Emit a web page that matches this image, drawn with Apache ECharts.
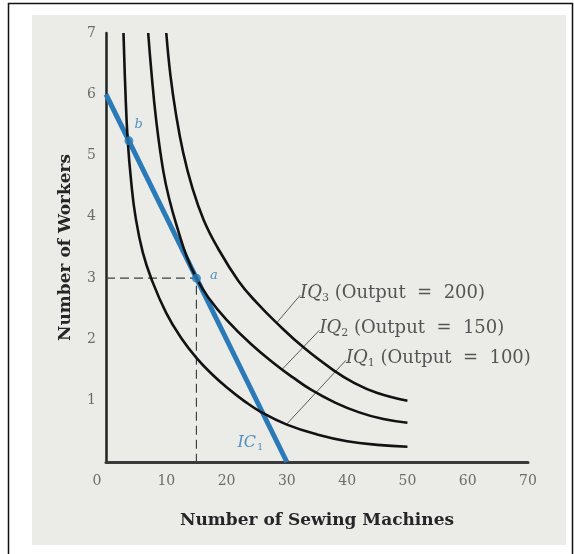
<!DOCTYPE html>
<html>
<head>
<meta charset="utf-8">
<script src="https://cdn.jsdelivr.net/npm/echarts@6/dist/echarts.min.js"></script>
<style>
  html, body { margin: 0; padding: 0; background: #ffffff; }
  #chart { width: 574px; height: 554px; }
</style>
</head>
<body>
<div id="chart"></div>
<script>
// Axis ticks
const xTicks = [0, 10, 20, 30, 40, 50, 60, 70];
const yTicks = [0, 1, 2, 3, 4, 5, 6, 7];

// Isoquants: [sewing machines, workers]
const iq1 = [[2.9,7],[3.2,6.1],[3.6,5.25],[4.2,4.55],[4.9,4.0],[6.1,3.42],[7.6,2.97],[10,2.43],[12.5,2.02],[15,1.7],[17.5,1.44],[20,1.22],[23,0.99],[25.8,0.81],[30,0.61],[35,0.45],[40,0.34],[45,0.28],[50,0.25]];
const iq2 = [[7,7],[7.5,6.4],[8.3,5.6],[9.5,4.75],[10.6,4.25],[11.9,3.8],[13.4,3.35],[15,3.0],[17,2.68],[20,2.32],[24,1.93],[28,1.6],[31,1.38],[34,1.18],[38,0.97],[42,0.81],[46,0.7],[50,0.64]];
const iq3 = [[10,7],[10.7,6.3],[11.6,5.68],[12.8,5.05],[14.3,4.48],[16.2,3.95],[18.5,3.5],[22,2.95],[25,2.6],[28.3,2.27],[33,1.85],[37.7,1.5],[41,1.3],[44.9,1.13],[50,1.0]];

// Isocost line IC1
const ic1 = [[0,6],[30,0]];
// Cost-minimising point a and point b
const pointA = [15, 3];
const pointB = [3.8, 5.24];
// Guide lines from point a to both axes
const guide = [[0,3],[15,3],[15,0]];

// Curve labels and their leader lines
const curveNames = ['3', '2', '1'];
const outputs = [200, 150, 100];
const leaderStarts = [[32.2,2.72],[35.4,2.15],[39.8,1.66]];
const leaderEnds = [[28.3,2.27],[29.1,1.5],[29.9,0.61]];

const SERIF = '"DejaVu Serif", "Liberation Serif", serif';
const BLUE = '#2a7ab8';
const INK = '#2e2e2e';

const chart = echarts.init(document.getElementById('chart'), null, { renderer: 'canvas' });

const curveSeries = [iq1, iq2, iq3].map((d, i) => ({
  type: 'line', name: 'IQ' + (i + 1), data: d, smooth: 0.45, symbol: 'none',
  lineStyle: { color: '#121212', width: 2.6 }, z: 5
}));

const leaderSeries = leaderStarts.map((s, i) => ({
  type: 'line', data: [s, leaderEnds[i]], symbol: 'none', silent: true,
  lineStyle: { color: '#5a5a5a', width: 1 }, z: 4
}));

const labelSeries = {
  type: 'scatter', symbolSize: 0, silent: true, z: 6,
  data: leaderStarts.map((s, i) => ({
    value: s,
    label: {
      show: true, position: 'right', distance: 0, offset: [0, -2],
      formatter: '{it|IQ}{sub|' + curveNames[i] + '}{rm| (Output  =  ' + outputs[i] + ')}',
      rich: {
        it: { fontFamily: SERIF, fontStyle: 'italic', fontSize: 18, color: INK, lineHeight: 22 },
        sub: { fontFamily: SERIF, fontSize: 11, color: INK, padding: [10, 0, 0, 0], lineHeight: 22 },
        rm: { fontFamily: SERIF, fontSize: 18, color: INK, lineHeight: 22 }
      }
    }
  }))
};

chart.setOption({
  animation: false,
  backgroundColor: 'transparent',
  graphic: [
    { type: 'rect', shape: { x: 32, y: 15, width: 534, height: 530 }, style: { fill: '#ebebe8' }, z: -10 },
    { type: 'polyline', shape: { points: [[8.5, 554], [8.5, 3.5], [572.5, 3.5], [572.5, 554]] },
      style: { stroke: '#111', lineWidth: 1.5, fill: null }, z: -9 }
  ],
  grid: { left: 106, right: 46, top: 33, bottom: 92, containLabel: false },
  xAxis: {
    type: 'value', min: xTicks[0], max: xTicks[xTicks.length - 1], interval: 10,
    name: 'Number of Sewing Machines', nameLocation: 'middle', nameGap: 50,
    nameTextStyle: { fontFamily: SERIF, fontWeight: 'bold', fontSize: 17, color: '#262626' },
    axisLine: { show: true, onZero: false, lineStyle: { color: '#3a3a3a', width: 3 } },
    axisTick: { show: false }, splitLine: { show: false },
    axisLabel: {
      margin: 12, fontFamily: SERIF, fontSize: 14, color: '#6b6b6b',
      formatter: v => v === 0 ? '{z|0}' : String(v),
      rich: { z: { fontFamily: SERIF, fontSize: 14, color: '#6b6b6b', padding: [0, 18, 0, 0] } }
    }
  },
  yAxis: {
    type: 'value', min: yTicks[0], max: yTicks[yTicks.length - 1], interval: 1,
    name: 'Number of Workers', nameLocation: 'middle', nameGap: 32,
    nameTextStyle: { fontFamily: SERIF, fontWeight: 'bold', fontSize: 17, color: '#262626' },
    axisLine: { show: true, onZero: false, lineStyle: { color: '#222', width: 2.5 } },
    axisTick: { show: false }, splitLine: { show: false },
    axisLabel: { margin: 10, fontFamily: SERIF, fontSize: 14, color: '#6b6b6b', showMinLabel: false }
  },
  series: [
    {
      type: 'line', data: guide, symbol: 'none', silent: true,
      lineStyle: { color: '#3e3e3e', width: 1.2, type: [9, 5] }, z: 3
    },
    {
      type: 'line', name: 'IC1', data: ic1, symbol: 'none',
      lineStyle: { color: BLUE, width: 5 }, z: 4
    },
    ...curveSeries,
    ...leaderSeries,
    labelSeries,
    {
      type: 'scatter', z: 7, symbolSize: 9, itemStyle: { color: BLUE },
      data: [
        { value: pointA, label: { show: true, formatter: 'a', position: 'right', distance: 9, offset: [0, -3],
          fontFamily: SERIF, fontStyle: 'italic', fontSize: 13, color: BLUE } },
        { value: pointB, label: { show: true, formatter: 'b', position: 'right', distance: 1, offset: [0, -16],
          fontFamily: SERIF, fontStyle: 'italic', fontSize: 13, color: BLUE } }
      ]
    },
    {
      type: 'scatter', symbolSize: 0, silent: true, z: 7,
      data: [{
        value: [21.8, 0.31],
        label: {
          show: true, position: 'right', distance: 0,
          formatter: '{it|IC}{sub|1}',
          rich: {
            it: { fontFamily: SERIF, fontStyle: 'italic', fontSize: 16, color: BLUE, lineHeight: 20 },
            sub: { fontFamily: SERIF, fontSize: 10, color: BLUE, padding: [9, 0, 0, 1], lineHeight: 20 }
          }
        }
      }]
    }
  ]
});
</script>
</body>
</html>
